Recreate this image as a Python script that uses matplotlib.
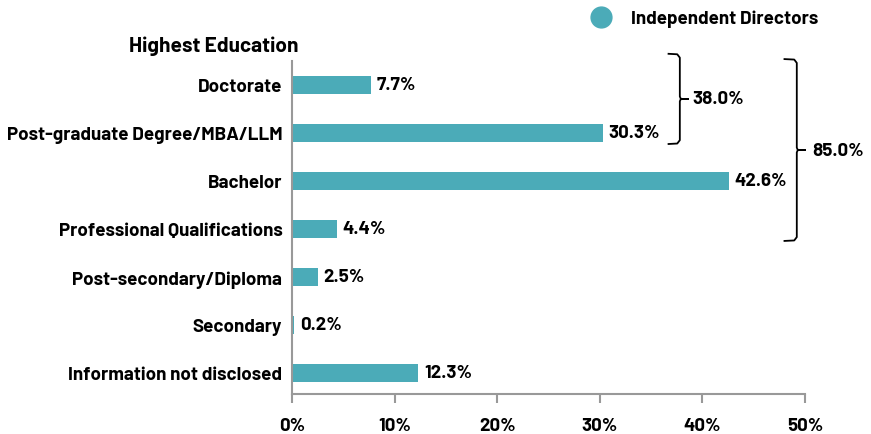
import matplotlib
matplotlib.use("Agg")
import matplotlib.pyplot as plt
from matplotlib.lines import Line2D

categories = ["Doctorate", "Post-graduate Degree/MBA/LLM", "Bachelor",
              "Professional Qualifications", "Post-secondary/Diploma",
              "Secondary", "Information not disclosed"]
values = [7.7, 30.3, 42.6, 4.4, 2.5, 0.2, 12.3]
xticks = [0, 10, 20, 30, 40, 50]
series_name = "Independent Directors"
axis_title = "Highest Education"
brace_labels = ["38.0%", "85.0%"]

plt.rcParams['font.family'] = ['Barlow', 'DejaVu Sans']
plt.rcParams['font.weight'] = 'bold'

color = "#4BABB8"
FS = 13.5
fig = plt.figure(figsize=(8.71, 4.35), dpi=100)
ax = fig.add_axes([292/871, 1-395/435, 513/871, 333/435])

y = list(range(len(categories)))
ax.barh(y, values, height=0.375, color=color)
ax.set_ylim(6.44, -0.5)
ax.set_xlim(0, 50)
ax.set_yticks(y)
ax.set_yticklabels(categories, fontsize=FS, fontweight='bold')
ax.set_xticks(xticks)
ax.set_xticklabels([f"{t}%" for t in xticks], fontsize=FS, fontweight='bold')
for s in ["top", "right"]:
    ax.spines[s].set_visible(False)
for s in ["left", "bottom"]:
    ax.spines[s].set_color("#999999")
    ax.spines[s].set_linewidth(1.5)
ax.tick_params(axis='y', length=0, pad=7)
ax.tick_params(axis='x', length=6.5, width=1.5, color="#999999", direction='out', pad=10)

for yi, v in zip(y, values):
    ax.text(v + 0.55, yi, f"{v:.1f}%", va='center', ha='left', fontsize=FS, fontweight='bold')

ax.text(0.012, 1.048, axis_title, transform=ax.transAxes, ha='right', va='center',
        fontsize=15, fontweight='bold')

def brace(x0, x1, ytop, ybot, label, lx):
    ymid = (ytop + ybot) / 2
    k = 0.8
    d = 0.05
    pts_x = [x0, x1 - 0.25, x1, x1, x1 + 0.1, x1 + k, x1 + 0.1, x1, x1, x1 - 0.25, x0]
    pts_y = [ytop, ytop + 0.01, ytop + 0.08, ymid - d, ymid, ymid, ymid, ymid + d,
             ybot - 0.08, ybot - 0.01, ybot]
    ax.add_line(Line2D(pts_x, pts_y, color='black', lw=1.3, clip_on=False,
                       solid_joinstyle='round'))
    ax.text(lx, ymid, label, ha='left', va='center', fontsize=FS, fontweight='bold', clip_on=False)

brace(36.7, 37.8, -0.65, 1.23, brace_labels[0], 39.0)
brace(48.0, 49.2, -0.54, 3.25, brace_labels[1], 50.7)

handle = Line2D([], [], marker='o', color=color, linestyle='None', markersize=15)
fig.legend([handle], [series_name], loc='center left', bbox_to_anchor=(0.649, 0.955),
           frameon=False, fontsize=FS, handletextpad=0.6)

fig.savefig("out.png", dpi=100)
